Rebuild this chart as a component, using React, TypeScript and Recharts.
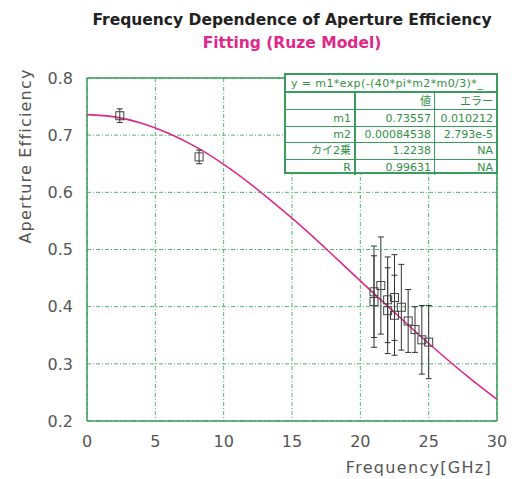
import {
  ComposedChart,
  CartesianGrid,
  ErrorBar,
  Line,
  ReferenceLine,
  Scatter,
  XAxis,
  YAxis,
} from "recharts";

// Ruze fit curve, every 2 GHz
const fitFreq = [0, 2, 4, 6, 8, 10, 12, 14, 16, 18, 20, 22, 24, 26, 28, 30];
const fitEff = [0.736, 0.732, 0.721, 0.703, 0.679, 0.649, 0.614, 0.575, 0.534, 0.49, 0.445, 0.401, 0.357, 0.315, 0.275, 0.238];

// measured points with error bars
const measFreq = [2.4, 8.2, 21.0, 21.0, 21.5, 22.0, 22.0, 22.5, 22.5, 23.0, 23.5, 24.0, 24.5, 25.0];
const measEff = [0.734, 0.662, 0.426, 0.409, 0.437, 0.412, 0.393, 0.416, 0.385, 0.399, 0.375, 0.36, 0.342, 0.338];
const measErr = [0.012, 0.012, 0.08, 0.08, 0.085, 0.075, 0.075, 0.075, 0.07, 0.075, 0.055, 0.04, 0.06, 0.064];

const xTicks = [0, 5, 10, 15, 20, 25, 30];
const yTicks = [0.2, 0.3, 0.4, 0.5, 0.6, 0.7, 0.8];

const fitTitle = "y = m1*exp(-(40*pi*m2*m0/3)*_";
const tableHead = ["", "値", "エラー"];
const tableRows = [
  ["m1", "0.73557", "0.010212"],
  ["m2", "0.00084538", "2.793e-5"],
  ["カイ2乗", "1.2238", "NA"],
  ["R", "0.99631", "NA"],
];

const fitData = fitFreq.map((f, i) => ({ f, eff: fitEff[i] }));
const measData = measFreq.map((f, i) => ({ f, eff: measEff[i], err: measErr[i] }));

const GREEN = "#3a9d5d";
const GRID = "#4fb86c";
const TEXT_GREEN = "#2f8f45";
const MAGENTA = "#e0288a";
const FONT = '"DejaVu Sans", "Noto Sans CJK JP", sans-serif';

function BoxMark(props: any) {
  const { cx, cy } = props;
  if (cx == null || cy == null) return null;
  return <rect x={cx - 4} y={cy - 4} width={8} height={8} fill="none" stroke="#444" strokeWidth={1} />;
}

const colW = [68, 80, 66];

export default function App() {
  return (
    <div style={{ position: "absolute", left: 0, top: 0, width: 512, height: 479, background: "#fff", fontFamily: FONT }}>
      <div style={{ position: "absolute", left: 0, width: 584, top: 10, textAlign: "center", fontSize: 15.5, fontWeight: "bold", color: "#222", lineHeight: "20px" }}>
        Frequency Dependence of Aperture Efficiency
      </div>
      <div style={{ position: "absolute", left: 0, width: 584, top: 33, textAlign: "center", fontSize: 15.5, fontWeight: "bold", color: MAGENTA, lineHeight: "20px" }}>
        Fitting (Ruze Model)
      </div>

      <ComposedChart width={512} height={479} margin={{ top: 78, right: 15, bottom: 0, left: 0 }}>
        <CartesianGrid stroke={GRID} strokeDasharray="4 2 1 2" />
        <XAxis
          type="number"
          dataKey="f"
          domain={[0, 30]}
          ticks={xTicks}
          height={58}
          axisLine={false}
          tickLine={false}
          tickSize={0}
          tickMargin={15}
          tick={{ fill: "#555", fontSize: 16, fontFamily: FONT }}
        />
        <YAxis
          type="number"
          domain={[0.2, 0.8]}
          ticks={yTicks}
          width={87}
          axisLine={false}
          tickLine={false}
          tickSize={0}
          tickMargin={14}
          tickFormatter={(v) => Number(v).toFixed(1)}
          tick={{ fill: "#555", fontSize: 16, fontFamily: FONT }}
        />
        <ReferenceLine x={0} stroke={GREEN} strokeWidth={1.5} />
        <ReferenceLine x={30} stroke={GREEN} strokeWidth={1.5} />
        <ReferenceLine y={0.2} stroke={GREEN} strokeWidth={1.5} />
        <ReferenceLine y={0.8} stroke={GREEN} strokeWidth={1.5} />
        <Line
          data={fitData}
          dataKey="eff"
          type="monotone"
          stroke={MAGENTA}
          strokeWidth={1.6}
          dot={false}
          isAnimationActive={false}
        />
        <Scatter data={measData} dataKey="eff" shape={BoxMark} isAnimationActive={false}>
          <ErrorBar dataKey="err" direction="y" width={3} stroke="#333" strokeWidth={1} />
        </Scatter>
      </ComposedChart>

      <div
        style={{
          position: "absolute",
          left: 10,
          top: 156,
          transform: "translate(-50%, -50%) rotate(-90deg)",
          transformOrigin: "center",
          marginLeft: 15,
          whiteSpace: "nowrap",
          fontSize: 16,
          letterSpacing: 1.2,
          color: "#555",
        }}
      >
        Aperture Efficiency
      </div>
      <div style={{ position: "absolute", right: 20, top: 458, fontSize: 16, letterSpacing: 1.3, color: "#555", whiteSpace: "nowrap" }}>
        Frequency[GHz]
      </div>

      <div
        style={{
          position: "absolute",
          left: 284,
          top: 73,
          width: 214,
          height: 101,
          boxSizing: "border-box",
          border: `2px solid ${GREEN}`,
          background: "#fff",
          color: TEXT_GREEN,
          fontSize: 11,
          lineHeight: 1,
        }}
      >
        <div style={{ height: 16, borderBottom: `2px solid ${GREEN}`, display: "flex", alignItems: "center", paddingLeft: 5, whiteSpace: "nowrap", overflow: "hidden", letterSpacing: 0.4 }}>
          {fitTitle}
        </div>
        {[tableHead, ...tableRows].map((row, r) => (
          <div key={r} style={{ display: "flex", height: 16.4, borderTop: r === 0 ? "none" : `1px solid ${GREEN}`, boxSizing: "border-box" }}>
            {row.map((cell, c) => (
              <div
                key={c}
                style={{
                  width: colW[c] - (c === 2 ? 4 : 0),
                  boxSizing: "border-box",
                  borderLeft: c === 0 ? "none" : `${c === 1 ? 2 : 1}px solid ${GREEN}`,
                  textAlign: "right",
                  paddingRight: 3,
                  display: "flex",
                  alignItems: "center",
                  justifyContent: "flex-end",
                  whiteSpace: "nowrap",
                }}
              >
                {cell}
              </div>
            ))}
          </div>
        ))}
      </div>
    </div>
  );
}
